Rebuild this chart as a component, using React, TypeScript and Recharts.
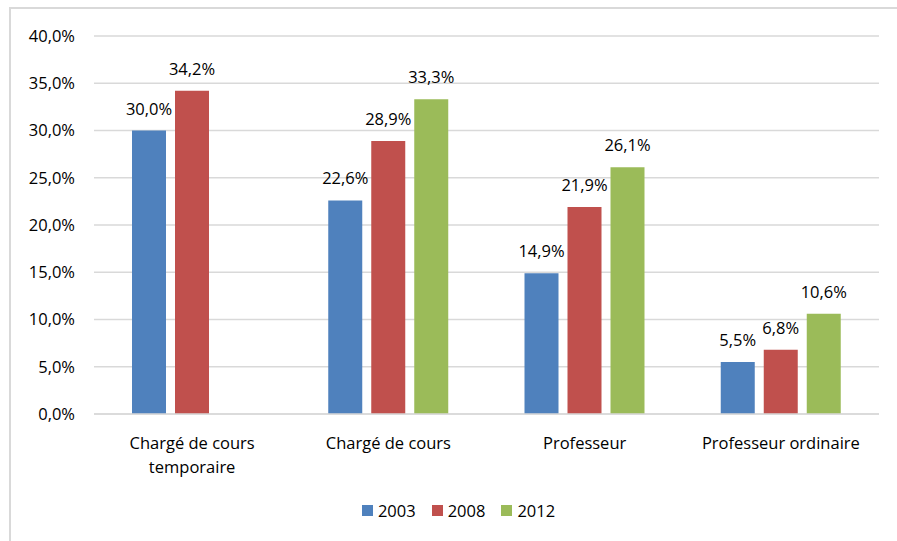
import { Bar, BarChart, CartesianGrid, LabelList, Legend, XAxis, YAxis } from 'recharts'

const categories = ['Chargé de cours\ntemporaire', 'Chargé de cours', 'Professeur', 'Professeur ordinaire']
const values2003 = [30.0, 22.6, 14.9, 5.5]
const values2008 = [34.2, 28.9, 21.9, 6.8]
const values2012 = [null, 33.3, 26.1, 10.6]
const yTicks = [0, 5, 10, 15, 20, 25, 30, 35, 40]

const SERIES = [
  { key: 'y2003', name: '2003', color: '#4F81BD' },
  { key: 'y2008', name: '2008', color: '#C0504D' },
  { key: 'y2012', name: '2012', color: '#9BBB59' },
]

const FONT = '"Open Sans", sans-serif'
const FS = 16.5

const data = categories.map((name, i) => ({
  name,
  y2003: values2003[i],
  y2008: values2008[i],
  y2012: values2012[i],
}))

const pct = (v: any) => (v == null ? '' : Number(v).toFixed(1).replace('.', ',') + '%')

function CategoryTick({ x, y, payload }: any) {
  const lines = String(payload.value).split('\n')
  return (
    <text x={x} y={y} textAnchor="middle" fontSize={FS} fontFamily={FONT} fill="#000">
      {lines.map((l, i) => (
        <tspan key={i} x={x} dy={i === 0 ? 27 : 24}>
          {l}
        </tspan>
      ))}
    </text>
  )
}

function LegendContent() {
  return (
    <div
      style={{
        display: 'flex',
        justifyContent: 'center',
        height: 30,
        alignItems: 'center',
        paddingLeft: 38,
        fontFamily: FONT,
        fontSize: FS,
        color: '#000',
      }}
    >
      {SERIES.map((s) => (
        <div key={s.key} style={{ display: 'flex', alignItems: 'center', margin: '0 8px' }}>
          <span style={{ width: 11, height: 11, background: s.color, marginRight: 5, display: 'inline-block' }} />
          <span>{s.name}</span>
        </div>
      ))}
    </div>
  )
}

export default function App() {
  return (
    <div style={{ position: 'absolute', left: 0, top: 0, width: 897, height: 541, overflow: 'hidden', background: '#fff' }}>
      <div
        style={{
          position: 'absolute',
          left: 9,
          top: 7,
          width: 1000,
          height: 1000,
          border: '2px solid #D9D9D9',
        }}
      />
      <BarChart
        width={897}
        height={541}
        data={data}
        margin={{ top: 36, right: 18, left: 0, bottom: 16 }}
        barSize={34}
        barGap={9}
        style={{ position: 'absolute', left: 0, top: 0 }}
      >
        <CartesianGrid vertical={false} stroke="#D9D9D9" strokeWidth={1.5} />
        <XAxis
          dataKey="name"
          height={81}
          tickLine={false}
          axisLine={{ stroke: '#D9D9D9', strokeWidth: 1.5 }}
          tick={<CategoryTick />}
          interval={0}
        />
        <YAxis
          width={94}
          domain={[0, 40]}
          ticks={yTicks}
          tickFormatter={pct}
          axisLine={false}
          tickLine={false}
          tickSize={0}
          tickMargin={19}
          tick={{ fontSize: FS, fontFamily: FONT, fill: '#000' }}
        />
        <Legend verticalAlign="bottom" content={<LegendContent />} />
        {SERIES.map((s) => (
          <Bar key={s.key} dataKey={s.key} name={s.name} fill={s.color} isAnimationActive={false}>
            <LabelList dataKey={s.key} position="top" offset={16} formatter={pct} fontSize={FS} fontFamily={FONT} fill="#000" />
          </Bar>
        ))}
      </BarChart>
    </div>
  )
}
